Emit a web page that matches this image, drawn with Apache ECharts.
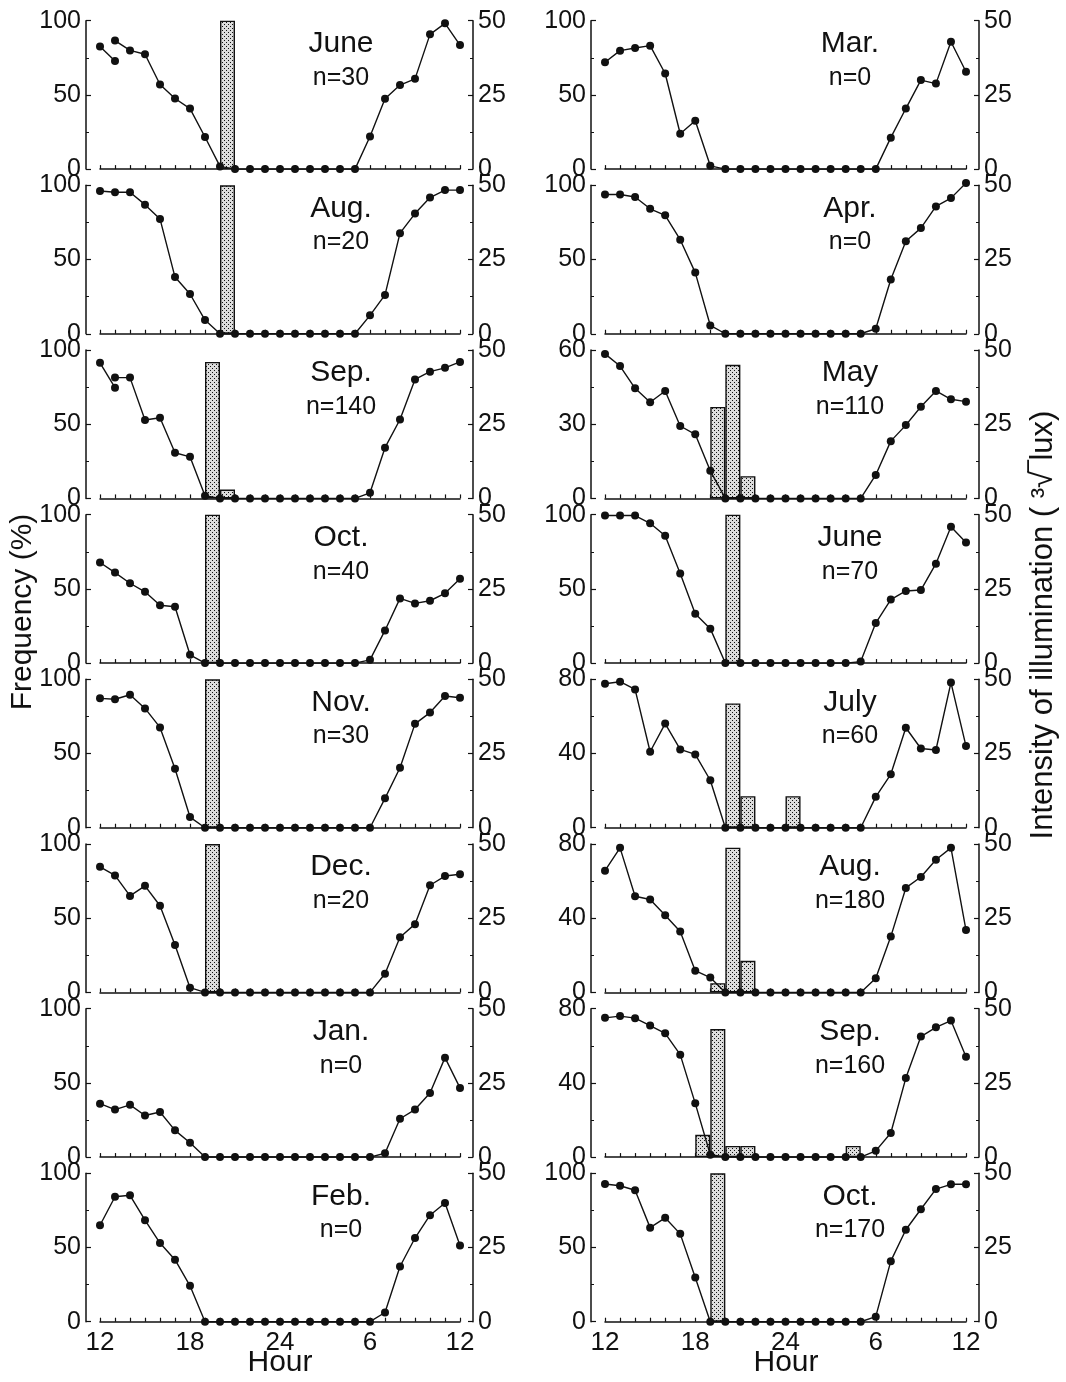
<!DOCTYPE html>
<html><head><meta charset="utf-8">
<script src="https://cdn.jsdelivr.net/npm/echarts/dist/echarts.min.js"></script>
<style>html,body{margin:0;padding:0;background:#fff}#c{width:1066px;height:1382px}</style>
</head><body><div id="c"></div>
<script>
// ---------- DATA ----------
const hours = [12,13,14,15,16,17,18,19,20,21,22,23,24,25,26,27,28,29,30,31,32,33,34,35,36];
const hourTickValues = [12,18,24,30,36];
const hourTickLabels = ['12','18','24','6','12'];

// Left column
const illumJuneL_head = [41.3, 36.4];               // hours 12-13 (separate segment)
const illumJuneL = [null,43.3,40,38.7,28.5,23.8,20.4,10.8,0.9,0,0,0,0,0,0,0,0,0,11,23.7,28.3,30.4,45.4,49.1,41.8];
const barsJuneL = [[20,100]];
const illumAugL = [48.1,47.7,47.7,43.5,38.7,19.1,13.4,4.6,0,0,0,0,0,0,0,0,0,0,6.2,13.1,33.9,40.5,45.9,48.4,48.4];
const barsAugL = [[20,100]];
const illumSepL_head = [45.7, 37.3];
const illumSepL = [null,40.7,40.7,26.4,27.2,15.4,14,0.9,0,0,0,0,0,0,0,0,0,0,1.9,17.1,26.6,40.1,42.7,44,46];
const barsSepL = [[19,92],[20,6]];
const illumOctL = [33.9,30.5,26.9,24,19.5,19,2.8,0,0,0,0,0,0,0,0,0,0,0,1.1,11,21.8,20.1,21,23.5,28.4];
const barsOctL = [[19,100]];
const illumNovL = [43.6,43.3,44.8,40.2,33.8,19.9,3.6,0,0,0,0,0,0,0,0,0,0,0,0,9.9,20.2,35,38.8,44.4,43.8];
const barsNovL = [[19,100]];
const illumDecL = [42.3,39.4,32.5,35.9,29.2,16,1.6,0,0,0,0,0,0,0,0,0,0,0,0,6.3,18.6,23,36.1,39.2,39.8];
const barsDecL = [[19,100]];
const illumJanL = [18,16,17.6,14,15.2,9,4.8,0,0,0,0,0,0,0,0,0,0,0,0,1.3,12.9,16,21.6,33.5,23.3];
const barsJanL = [];
const illumFebL = [32.5,42.1,42.6,34.2,26.5,20.9,12.1,0,0,0,0,0,0,0,0,0,0,0,0,3.1,18.6,28.2,35.9,40,25.7];
const barsFebL = [];

// Right column
const illumMarR = [36,39.9,40.8,41.6,32.2,11.9,16.3,1.1,0,0,0,0,0,0,0,0,0,0,0,10.6,20.4,30,28.8,42.9,32.8];
const barsMarR = [];
const illumAprR = [46.9,46.9,46.1,42.1,39.9,31.7,20.6,2.8,0,0,0,0,0,0,0,0,0,0,1.7,18.3,31.2,35.6,42.9,45.7,50.8];
const barsAprR = [];
const illumMayR = [48.7,44.6,37.1,32.4,36.2,24.4,21.6,9.3,0,0,0,0,0,0,0,0,0,0,7.9,19.3,24.7,30.9,36.2,33.4,32.6];
const barsMayR = [[19,37],[20,54],[21,9]];
const illumJuneR = [49.7,49.7,49.7,47.1,42.9,30.2,16.6,11.6,0,0,0,0,0,0,0,0,0,0.5,13.5,21.4,24.3,24.6,33.5,45.9,40.6];
const barsJuneR = [[20,100]];
const illumJulyR = [48.5,49.2,46.6,25.6,35.1,26.4,24.7,16,0,0,0,0,0,0,0,0,0,0,10.4,18,33.7,26.7,26.2,48.9,27.5];
const barsJulyR = [[20,67],[21,17],[24,17]];
const illumAugR = [41,48.7,32.4,31.3,26,20.5,7.3,5,0,0,0,0,0,0,0,0,0,0,4.8,18.8,35.2,38.9,44.7,48.7,21];
const barsAugR = [[19,5],[20,78],[21,17]];
const illumSepR = [46.9,47.5,46.8,44.3,41.7,34.5,18.1,0.8,0,0,0,0,0,0,0,0,0,0,2.1,8.1,26.6,40.6,43.7,46,33.8];
const barsSepR = [[18,12],[19,69],[20,6],[21,6],[28,6]];
const illumOctR = [46.4,45.8,44.3,31.7,35,29.6,14.9,0,0,0,0,0,0,0,0,0,0,0,1.7,20.4,31,37.9,44.7,46.3,46.3];
const barsOctR = [[19,100]];

const monthsL = ['June','Aug.','Sep.','Oct.','Nov.','Dec.','Jan.','Feb.'];
const countsL = ['n=30','n=20','n=140','n=40','n=30','n=20','n=0','n=0'];
const freqMaxL = [100,100,100,100,100,100,100,100];
const monthsR = ['Mar.','Apr.','May','June','July','Aug.','Sep.','Oct.'];
const countsR = ['n=0','n=0','n=110','n=70','n=60','n=180','n=160','n=170'];
const freqMaxR = [100,100,60,100,80,80,80,100];
const illumMax = 50;

const illumL = [illumJuneL,illumAugL,illumSepL,illumOctL,illumNovL,illumDecL,illumJanL,illumFebL];
const headL = [illumJuneL_head,null,illumSepL_head,null,null,null,null,null];
const barsL = [barsJuneL,barsAugL,barsSepL,barsOctL,barsNovL,barsDecL,barsJanL,barsFebL];
const illumR = [illumMarR,illumAprR,illumMayR,illumJuneR,illumJulyR,illumAugR,illumSepR,illumOctR];
const barsR = [barsMarR,barsAprR,barsMayR,barsJuneR,barsJulyR,barsAugR,barsSepR,barsOctR];

// ---------- CHART ----------
const FONT = '"Liberation Sans", Arial, Helvetica, sans-serif';
const INK = '#111';
const pc = document.createElement('canvas'); pc.width = 4; pc.height = 4;
const g = pc.getContext('2d');
g.fillStyle = '#dcdcdc'; g.fillRect(0,0,4,4);
g.fillStyle = '#111'; g.fillRect(0,0,1,1); g.fillRect(2,2,1,1);
const pattern = { image: pc, repeat: 'repeat' };

const colLeft = [100, 605];
const colWidth = [360, 361];
const top0 = 20.7, pitch = 164.66, ph = 148.4;

const grids = [], xAxes = [], yAxes = [], series = [], graphics = [];

function addPanel(col, row, month, count, fmax, illum, head, bars) {
  const i = grids.length;
  const gl = colLeft[col], gt = top0 + row * pitch;
  grids.push({ left: gl, top: gt, width: colWidth[col], height: ph });
  const last = row === 7;
  xAxes.push({
    type: 'value', gridIndex: i, min: 12, max: 36, interval: 1,
    axisLine: { show: true, onZero: false, lineStyle: { color: INK, width: 1.5 } },
    axisTick: { show: true, inside: true, length: 4, lineStyle: { color: INK, width: 1.2 } },
    splitLine: { show: false },
    axisLabel: {
      show: last, margin: 8, fontSize: 26, color: INK, fontFamily: FONT,
      formatter: v => { const k = hourTickValues.indexOf(v); return k >= 0 ? hourTickLabels[k] : ''; }
    }
  });
  yAxes.push({
    type: 'value', gridIndex: i, position: 'left', offset: 14, min: 0, max: fmax, interval: fmax / 2,
    axisLine: { show: true, lineStyle: { color: INK, width: 1.5 } },
    axisTick: { show: true, inside: true, length: 5, lineStyle: { color: INK, width: 1.2 } },
    minorTick: { show: true, splitNumber: 2, length: 3, lineStyle: { color: INK, width: 1 } },
    splitLine: { show: false }, minorSplitLine: { show: false },
    axisLabel: { margin: 5, fontSize: 25, color: INK, fontFamily: FONT }
  });
  yAxes.push({
    type: 'value', gridIndex: i, position: 'right', offset: 13, min: 0, max: illumMax, interval: 25,
    axisLine: { show: true, lineStyle: { color: INK, width: 1.5 } },
    axisTick: { show: true, inside: true, length: 5, lineStyle: { color: INK, width: 1.2 } },
    minorTick: { show: true, splitNumber: 2, length: 3, lineStyle: { color: INK, width: 1 } },
    splitLine: { show: false }, minorSplitLine: { show: false },
    axisLabel: { margin: 5, fontSize: 25, color: INK, fontFamily: FONT }
  });
  if (bars.length) {
    series.push({
      type: 'bar', xAxisIndex: i, yAxisIndex: 2 * i, barWidth: colWidth[col] / 24,
      data: bars.map(b => [b[0] + 0.5, b[1]]), silent: true, z: 2,
      itemStyle: { color: pattern, borderColor: INK, borderWidth: 1.4 }
    });
  }
  const lineCommon = {
    type: 'line', xAxisIndex: i, yAxisIndex: 2 * i + 1, symbol: 'circle', symbolSize: 8,
    clip: false, silent: true, z: 5, connectNulls: false, animation: false,
    lineStyle: { color: INK, width: 1.4 }, itemStyle: { color: INK }
  };
  series.push(Object.assign({}, lineCommon, {
    data: hours.map((h, k) => [h, illum[k] == null ? '-' : illum[k]])
  }));
  if (head) {
    series.push(Object.assign({}, lineCommon, { data: head.map((v, k) => [hours[k], v]) }));
  }
  const cx = gl + (col === 0 ? 241 : 245);
  graphics.push({ type: 'text', x: cx, y: gt + 23, style: { text: month, fontSize: 30, fontFamily: FONT, fill: INK, textAlign: 'center', textVerticalAlign: 'middle' } });
  graphics.push({ type: 'text', x: cx, y: gt + 57, style: { text: count, fontSize: 25, fontFamily: FONT, fill: INK, textAlign: 'center', textVerticalAlign: 'middle' } });
}

for (let r = 0; r < 8; r++) addPanel(0, r, monthsL[r], countsL[r], freqMaxL[r], illumL[r], headL[r], barsL[r]);
for (let r = 0; r < 8; r++) addPanel(1, r, monthsR[r], countsR[r], freqMaxR[r], illumR[r], null, barsR[r]);

graphics.push({ type: 'text', x: 280, y: 1363, style: { text: 'Hour', fontSize: 30, fontFamily: FONT, fill: INK, textAlign: 'center', textVerticalAlign: 'middle' } });
graphics.push({ type: 'text', x: 786, y: 1363, style: { text: 'Hour', fontSize: 30, fontFamily: FONT, fill: INK, textAlign: 'center', textVerticalAlign: 'middle' } });
graphics.push({ type: 'text', x: 23, y: 612, rotation: Math.PI / 2, style: { text: 'Frequency (%)', fontSize: 30, fontFamily: FONT, fill: INK, textAlign: 'center', textVerticalAlign: 'middle' } });
graphics.push({ type: 'text', x: 1043, y: 625, rotation: Math.PI / 2, style: { text: 'Intensity of illumination ( \u00B3\u221A\u203Elux)', fontSize: 31, fontFamily: FONT, fill: INK, textAlign: 'center', textVerticalAlign: 'middle' } });

const chart = echarts.init(document.getElementById('c'), null, { renderer: 'canvas' });
chart.setOption({
  animation: false, backgroundColor: '#fff',
  grid: grids, xAxis: xAxes, yAxis: yAxes, series: series, graphic: graphics
});
</script></body></html>
